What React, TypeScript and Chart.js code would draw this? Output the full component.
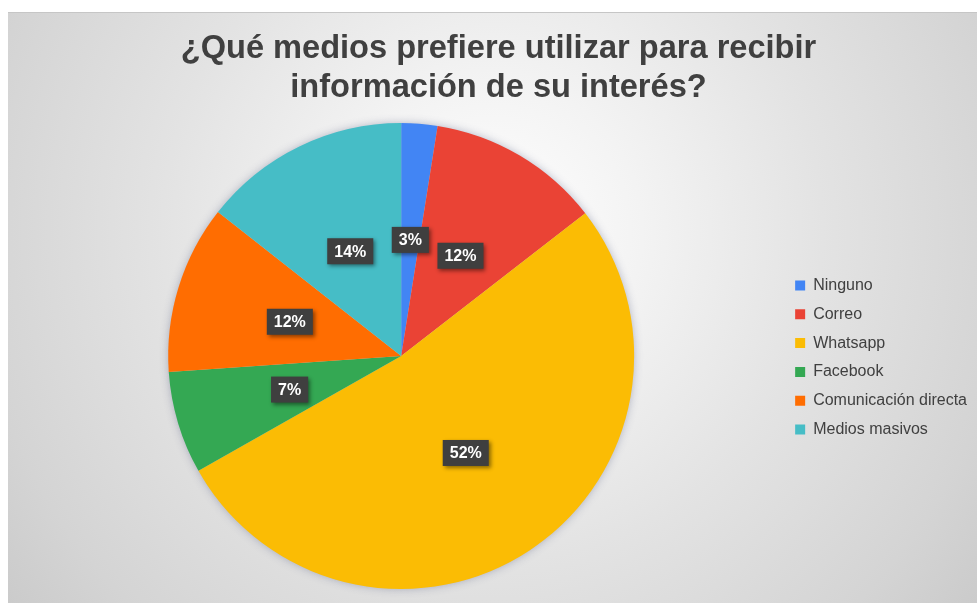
import { useEffect, useRef } from "react";
import { Chart, registerables } from "chart.js";

Chart.register(...registerables);

const categories = [
  "Ninguno",
  "Correo",
  "Whatsapp",
  "Facebook",
  "Comunicación directa",
  "Medios masivos",
];
const shares = [2.5, 12.0, 52.3, 7.1, 11.7, 14.4];
const sliceColors = ["#4285F4", "#EA4335", "#FBBC04", "#34A853", "#FF6D01", "#46BDC6"];
const titleLines = ["¿Qué medios prefiere utilizar para recibir", "información de su interés?"];

const FONT = '"Liberation Sans", Arial, Helvetica, sans-serif';

const pieShadow = {
  id: "pieShadow",
  beforeDatasetsDraw(chart: any) {
    const meta = chart.getDatasetMeta(0);
    const el = meta.data[0];
    if (!el) return;
    const { x, y, outerRadius } = el.getProps(["x", "y", "outerRadius"], true);
    const ctx = chart.ctx;
    ctx.save();
    ctx.shadowColor = "rgba(70,80,120,0.45)";
    ctx.shadowBlur = 10;
    ctx.beginPath();
    ctx.arc(x, y, outerRadius - 1, 0, Math.PI * 2);
    ctx.fillStyle = "#cccccc";
    ctx.fill();
    ctx.restore();
  },
};

const pctLabels = {
  id: "pctLabels",
  afterDatasetsDraw(chart: any) {
    const ctx = chart.ctx;
    const values = chart.data.datasets[0].data as number[];
    const total = values.reduce((a, b) => a + b, 0);
    const meta = chart.getDatasetMeta(0);
    ctx.save();
    ctx.font = `bold 16px ${FONT}`;
    meta.data.forEach((el: any, i: number) => {
      const p = el.getProps(["x", "y", "startAngle", "endAngle", "outerRadius"], true);
      const mid = (p.startAngle + p.endAngle) / 2;
      const r = p.outerRadius * 0.5;
      const cx = p.x + Math.cos(mid) * r;
      const cy = p.y + Math.sin(mid) * r;
      const text = Math.round((values[i] / total) * 100) + "%";
      const w = ctx.measureText(text).width + 14;
      const h = 26;
      ctx.shadowColor = "rgba(0,0,0,0.45)";
      ctx.shadowBlur = 4;
      ctx.shadowOffsetX = 2;
      ctx.shadowOffsetY = 2;
      ctx.fillStyle = "#3f3f3f";
      ctx.fillRect(cx - w / 2, cy - h / 2, w, h);
      ctx.shadowColor = "transparent";
      ctx.shadowBlur = 0;
      ctx.shadowOffsetX = 0;
      ctx.shadowOffsetY = 0;
      ctx.fillStyle = "#ffffff";
      ctx.textAlign = "center";
      ctx.textBaseline = "middle";
      ctx.fillText(text, cx, cy + 1);
    });
    ctx.restore();
  },
};

export default function App() {
  const canvasRef = useRef<HTMLCanvasElement | null>(null);

  useEffect(() => {
    if (!canvasRef.current) return;
    const chart = new Chart(canvasRef.current, {
      type: "pie",
      data: {
        labels: categories,
        datasets: [
          {
            data: shares,
            backgroundColor: sliceColors,
            borderWidth: 0,
          },
        ],
      },
      options: {
        responsive: false,
        animation: false,
        layout: { padding: { left: 12, right: 0, top: 0, bottom: 14 } },
        plugins: {
          title: {
            display: true,
            text: titleLines,
            color: "#404040",
            font: { family: FONT, size: 32.6, weight: "bold", lineHeight: 1.2 },
            padding: { top: 17.5, bottom: 15.3 },
          },
          legend: {
            display: true,
            position: "right",
            title: {
              display: true,
              text: "",
              font: { family: FONT, size: 12, lineHeight: 1.2 },
              padding: { top: 99.6, bottom: 0 },
            },
            labels: {
              boxWidth: 10,
              boxHeight: 10,
              padding: 12.8,
              color: "#404040",
              font: { family: FONT, size: 16 },
            },
          },
          tooltip: { enabled: false },
        },
      } as any,
      plugins: [pieShadow, pctLabels],
    });
    return () => chart.destroy();
  }, []);

  return (
    <div
      style={{
        position: "absolute",
        left: 8,
        top: 12,
        width: 969,
        height: 591,
        background:
          "radial-gradient(circle at 50% 37%, #ffffff 0px, #f3f3f3 150px, #e3e3e3 330px, #d4d4d4 520px, #c7c7c7 650px)",
        boxShadow: "inset 0 1px 0 #c6c6c6",
      }}
    >
      <canvas ref={canvasRef} width={969} height={591} style={{ display: "block" }} />
    </div>
  );
}
